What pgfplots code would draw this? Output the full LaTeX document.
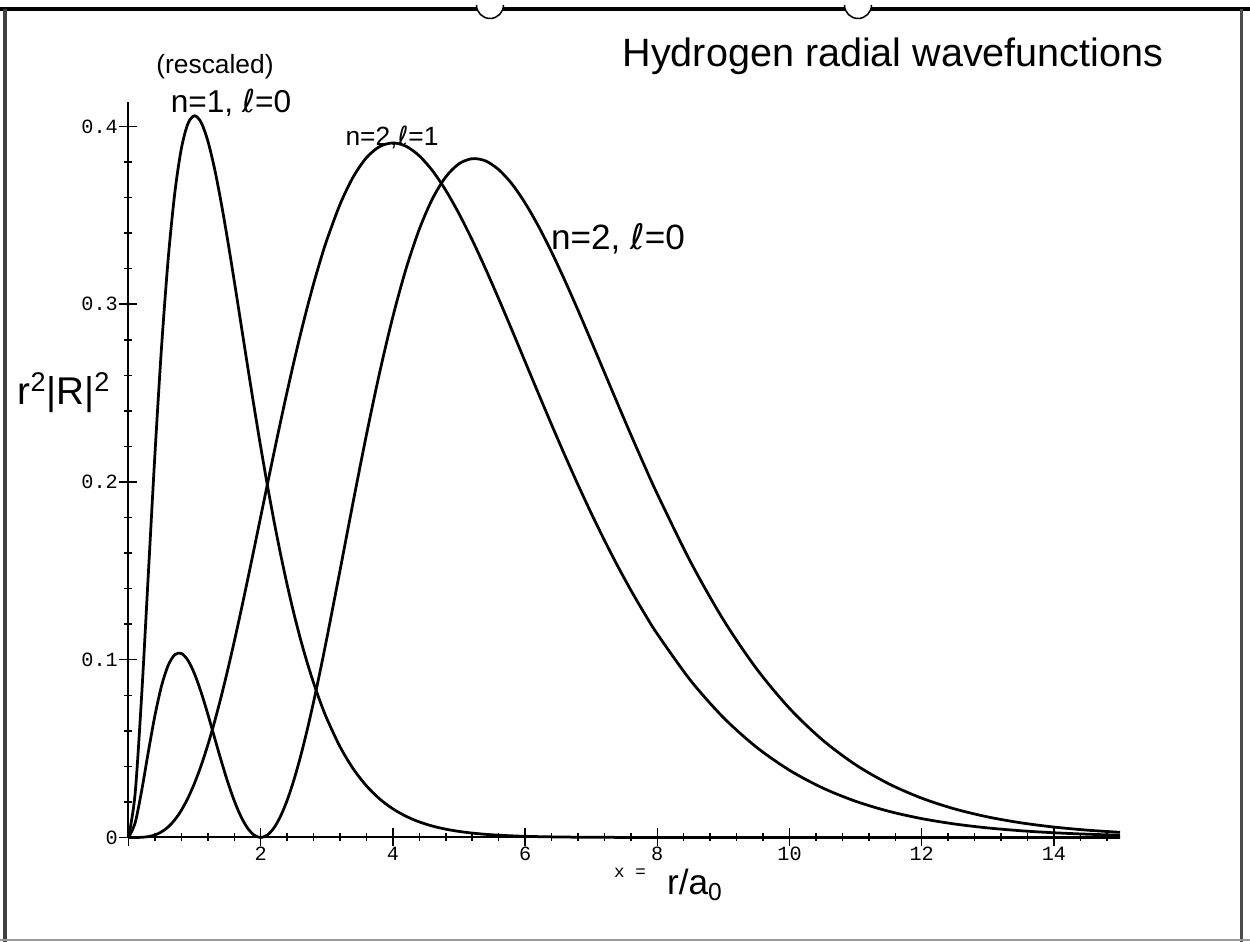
\documentclass[border=0pt]{standalone}
\usepackage{fontspec}
\setmainfont{Liberation Sans}
\setmonofont{Liberation Mono}
\newfontfamily\dv{DejaVu Sans}
\usepackage{pgfplots}
\pgfplotsset{compat=1.18}
\usepackage{pgfplotstable}

% r^2|R|^2: n=1,l=0 (rescaled), n=2,l=0, n=2,l=1
\pgfplotstableread{
x    n10     n20     n21
0    0       0       0
0.1  0.02456 0.00817 0.00001
0.2  0.08044 0.02653 0.00011
0.3  0.14818 0.04817 0.00050
0.4  0.21568 0.06864 0.00143
0.5  0.27591 0.08529 0.00316
0.6  0.32529 0.09681 0.00593
0.7  0.36250 0.10281 0.00994
0.8  0.38764 0.10353 0.01534
0.9  0.40168 0.09962 0.02223
1.0  0.40601 0.09197 0.03066
1.1  0.40221 0.08156 0.04061
1.2  0.39190 0.06940 0.05205
1.3  0.37657 0.05642 0.06486
1.4  0.35756 0.04350 0.07894
1.5  0.33606 0.03138 0.09413
1.6  0.31305 0.02067 0.11026
1.7  0.28934 0.01188 0.12715
1.8  0.26559 0.00536 0.14460
1.9  0.24228 0.00135 0.16243
2.0  0.21979 0       0.18045
2.1  0.19840 0.00135 0.19846
2.2  0.17826 0.00536 0.21630
2.3  0.15953 0.01193 0.23381
2.4  0.14221 0.02090 0.25083
2.5  0.12634 0.03206 0.26721
2.6  0.11188 0.04519 0.28285
2.7  0.09879 0.06002 0.29763
2.8  0.08698 0.07628 0.31148
2.9  0.07640 0.09370 0.32430
3.0  0.06693 0.11202 0.33606
3.2  0.05106 0.15026 0.35618
3.4  0.03863 0.18904 0.37164
3.6  0.02904 0.22664 0.38245
3.8  0.02168 0.26166 0.38872
4.0  0.01610 0.29306 0.39074
4.2  0.01191 0.32008 0.38886
4.4  0.00875 0.34226 0.38346
4.6  0.00641 0.35946 0.37506
4.8  0.00468 0.37165 0.36407
5.0  0.00341 0.37901 0.35094
5.2  0.00247 0.38190 0.33615
5.4  0.00178 0.38066 0.32007
5.6  0.00129 0.37574 0.30307
5.8  0.00093 0.36772 0.28555
6.0  0.00066 0.35694 0.26771
6.2  0.00048 0.34403 0.24990
6.4  0.00034 0.32940 0.23230
6.6  0.00024 0.31347 0.21511
6.8  0.00017 0.29665 0.19845
7.0  0.00012 0.27926 0.18245
7.2  0.00008 0.26163 0.16720
7.4  0.00006 0.24401 0.15274
7.6  0.00004 0.22662 0.13913
7.8  0.00003 0.20965 0.12639
8.0  0.00002 0.19323 0.11450
8.5  0.00001 0.15528 0.08851
9.0  0       0.12245 0.06748
9.5  0       0.09500 0.05081
10.0 0       0.07264 0.03783
10.5 0       0.05484 0.02789
11.0 0       0.04092 0.02038
11.5 0       0.03023 0.01476
12.0 0       0.02212 0.01062
12.5 0       0.01605 0.00758
13.0 0       0.01156 0.00538
13.5 0       0.00826 0.00379
14.0 0       0.00587 0.00266
14.5 0       0.00414 0.00186
15.0 0       0.00291 0.00129
}\radial

\begin{document}
\begin{tikzpicture}[x=1mm,y=1mm]
\useasboundingbox (0,0) rectangle (250,188.4);
% edges of the scanned sheet
\draw[line width=0.8mm] (0,186.6) -- (250,186.6);
\draw[line width=0.7mm, black!75] (1,0) -- (1,186.6);
\draw[line width=0.6mm, black!70] (248.2,0) -- (248.2,186.6);
\draw[line width=0.4mm, black!40] (0,0.4) -- (250,0.4);
% punch holes
\foreach \hx in {98,171.6}{
  \fill[white] (\hx,187.4) circle (2.7);
  \draw[line width=0.3mm] (\hx-2.7,187.4) arc (180:360:2.7);
}

\begin{axis}[
  at={(25.7mm,20.9mm)}, anchor=south west,
  x=13.22mm, y=355.5mm,
  xmin=0, xmax=15, ymin=0, ymax=0.4138,
  axis lines=left,
  axis line style={-, line width=0.4mm},
  xtick={0,2,...,14},
  xticklabels={,2,4,6,8,10,12,14},
  ytick={0,0.1,0.2,0.3,0.4},
  minor xtick={0.4,0.8,...,14.8},
  minor ytick={0.02,0.04,...,0.4},
  tick align=center,
  major tick length=3.6mm,
  minor tick length=1.6mm,
  tick style={black, line width=0.3mm},
  ticklabel style={font=\ttfamily\fontsize{11.5}{13}\selectfont},
  yticklabel style={xshift=0.9mm},
  xticklabel style={yshift=1.1mm},
  /pgf/number format/assume math mode=true,
  clip=false,
]
\addplot[smooth, line width=0.55mm] table[x=x, y=n10] {\radial};
\addplot[smooth, line width=0.55mm] table[x=x, y=n20] {\radial};
\addplot[smooth, line width=0.55mm] table[x=x, y=n21] {\radial};
\end{axis}

% handwritten notes
\node[anchor=base, font=\fontsize{22.5}{26}\selectfont] at (178.6,175) {Hydrogen radial wavefunctions};
\node[anchor=base, font=\fontsize{15}{18}\selectfont] at (43,173.6) {(rescaled)};
\node[anchor=base, font=\fontsize{18}{21}\selectfont] at (46.2,165.8) {n=1, {\dv ℓ}=0};
\node[anchor=base, font=\fontsize{15}{18}\selectfont] at (78.4,159.2) {n=2,{\dv ℓ}=1};
\node[anchor=base, font=\fontsize{20}{24}\selectfont] at (123.6,138.4) {n=2, {\dv ℓ}=0};
\node[anchor=base, font=\fontsize{22}{26}\selectfont] at (12.8,107.4) {r\textsuperscript{2}|R|\textsuperscript{2}};
\node[anchor=base, font=\ttfamily\fontsize{10}{12}\selectfont] at (126,12.8) {x =};
\node[anchor=base, font=\fontsize{20}{24}\selectfont] at (139,9.4) {r/a\textsubscript{0}};
\end{tikzpicture}
\end{document}
